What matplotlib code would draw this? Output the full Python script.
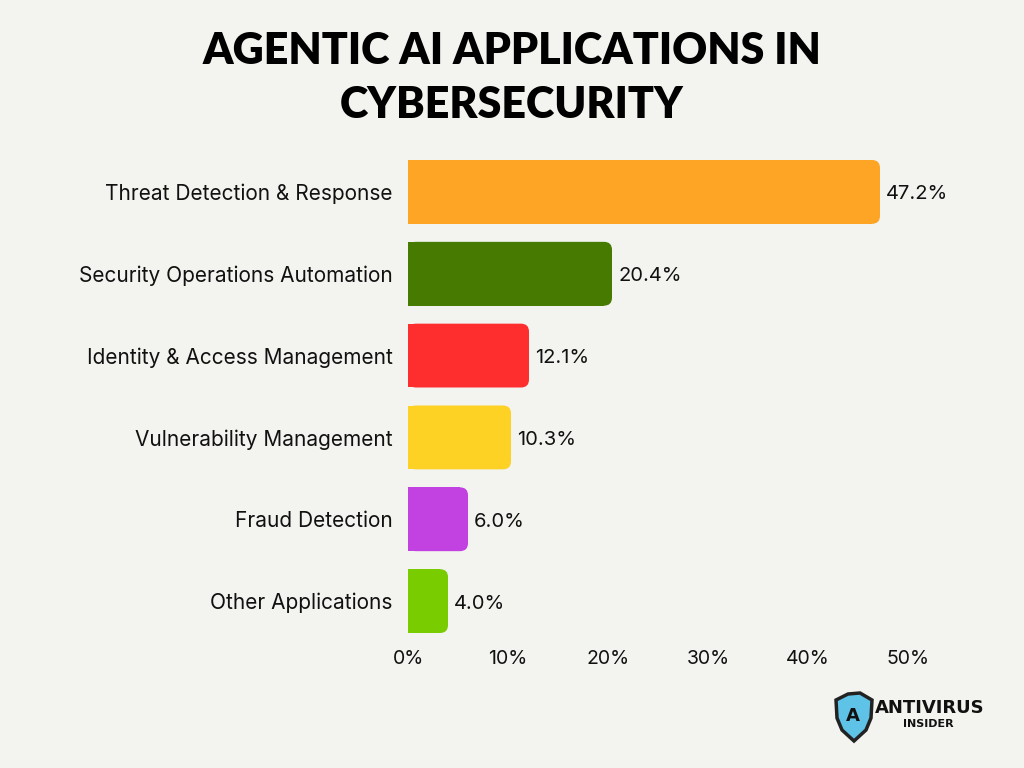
import matplotlib
matplotlib.use("Agg")
import matplotlib.pyplot as plt
from matplotlib.patches import FancyBboxPatch, Polygon
from matplotlib.ticker import FuncFormatter

categories = ["Threat Detection & Response", "Security Operations Automation",
              "Identity & Access Management", "Vulnerability Management",
              "Fraud Detection", "Other Applications"]
values = [47.2, 20.4, 12.1, 10.3, 6.0, 4.0]
colors = ["#FFA526", "#477A00", "#FF2E2E", "#FDD224", "#C142E0", "#78CC00"]
xticks = [0, 10, 20, 30, 40, 50]
title = "AGENTIC AI APPLICATIONS IN\nCYBERSECURITY"

BG = "#F3F3EF"
W, H = 1024, 768
fig = plt.figure(figsize=(W / 100, H / 100), dpi=100, facecolor=BG)

left, right = 408, 908
top, bottom = 151, 642
ax = fig.add_axes([left / W, 1 - bottom / H, (right - left) / W, (bottom - top) / H])
ax.set_facecolor(BG)
ax.set_xlim(0, 50)
n = len(categories)
ax.set_ylim(n - 0.5, -0.5)

bh = 0.78
rx = 0.8
ry = 8 / 82
for i, (v, c) in enumerate(zip(values, colors)):
    ax.barh(i, v - rx, height=bh, color=c, left=0)
    p = FancyBboxPatch((0, i - bh / 2), v, bh,
                       boxstyle=f"round,pad=0,rounding_size={rx}",
                       mutation_aspect=ry / rx, facecolor=c, edgecolor="none")
    ax.add_patch(p)
    ax.text(v + 0.6, i + 0.03, f"{v:.1f}%", va="center", ha="left",
            fontsize=14.5, family="Inter", color="#111111", clip_on=False)

ax.set_yticks(range(n))
ax.set_yticklabels(categories, fontsize=15, family="Inter", color="#111111")
ax.set_xticks(xticks)
ax.xaxis.set_major_formatter(FuncFormatter(lambda x, p: f"{x:.0f}%"))
for lab in ax.get_xticklabels():
    lab.set_family("Inter")
    lab.set_fontsize(14)
    lab.set_color("#111111")
ax.tick_params(axis="both", length=0)
ax.tick_params(axis="y", pad=11)
ax.tick_params(axis="x", pad=6)
for s in ax.spines.values():
    s.set_visible(False)

fig.text(0.5, 1 - 78 / H, title, ha="center", va="center", fontsize=31,
         family="Lato", fontweight="heavy", color="#000000", linespacing=1.45)

# logo
shield = [(836, 700), (848, 694), (860, 693), (872, 700), (871, 718), (866, 730),
          (854, 741), (842, 730), (837, 718)]
sx = [p[0] / W for p in shield]
sy = [1 - p[1] / H for p in shield]
fig.patches.append(Polygon(list(zip(sx, sy)), closed=True, transform=fig.transFigure,
                           facecolor="#5FC3E8", edgecolor="#222222", linewidth=2.5))
fig.text(853 / W, 1 - 716 / H, "A", ha="center", va="center", fontsize=13,
         fontweight="heavy", color="#111111", family="DejaVu Sans")
fig.text(930 / W, 1 - 708 / H, "ANTIVIRUS", ha="center", va="center", fontsize=13,
         fontweight="heavy", color="#111111", family="DejaVu Sans")
fig.text(928 / W, 1 - 724 / H, "INSIDER", ha="center", va="center", fontsize=8,
         fontweight="heavy", color="#111111", family="DejaVu Sans")

fig.savefig("out.png", dpi=100, facecolor=BG)
